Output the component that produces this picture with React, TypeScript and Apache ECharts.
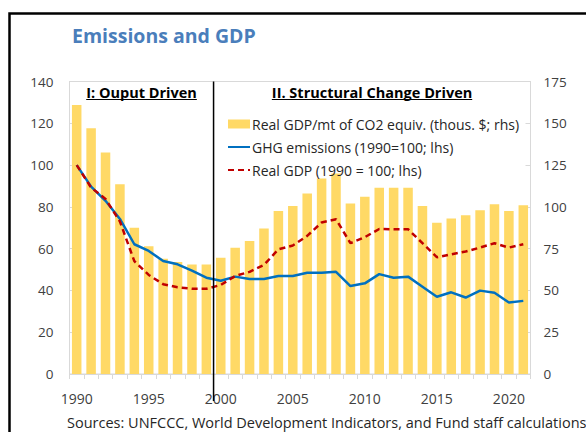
import React, { useEffect, useRef } from "react";
import * as echarts from "echarts";

const years = [
  "1990", "1991", "1992", "1993", "1994", "1995", "1996", "1997", "1998", "1999",
  "2000", "2001", "2002", "2003", "2004", "2005", "2006", "2007", "2008", "2009",
  "2010", "2011", "2012", "2013", "2014", "2015", "2016", "2017", "2018", "2019",
  "2020", "2021",
];

// Real GDP per mt of CO2 equiv. (thous. $; rhs)
const gdpPerCO2 = [
  161, 147, 132.5, 113.5, 87.5, 76.5, 69, 67, 65.5, 65.5,
  69.5, 75.5, 79.5, 87, 97.5, 100.5, 108, 117, 120, 102,
  106, 111.5, 111.5, 111.5, 100.5, 90.5, 93, 95, 98, 101.5,
  97.5, 101,
];

// GHG emissions (1990=100; lhs)
const ghg = [
  100, 89.7, 82.9, 74.2, 62.1, 58.9, 54.1, 52.5, 49.5, 46.1,
  44.6, 46.6, 45.5, 45.5, 46.9, 46.9, 48.5, 48.5, 48.9, 42.1,
  43.4, 47.8, 46.1, 46.6, 41.8, 37, 39.1, 36.6, 39.9, 38.9,
  34.2, 35,
];

// Real GDP (1990 = 100; lhs)
const realGdp = [
  100, 89.2, 83.8, 73, 54, 47.4, 43, 41.5, 40.8, 40.8,
  42.6, 46.9, 48.9, 52.2, 59.7, 61.5, 66.1, 72.5, 74.1, 62.6,
  65.5, 69.4, 69.3, 69.3, 62.6, 55.9, 57.3, 58.6, 60.5, 62.6,
  60.5, 62.1,
];

const barName = "Real GDP/mt of CO2 equiv. (thous. $; rhs)";
const ghgName = "GHG emissions (1990=100; lhs)";
const gdpName = "Real GDP (1990 = 100; lhs)";
const leftTicks = { min: 0, max: 140, interval: 20 };
const rightTicks = { min: 0, max: 175, interval: 25 };
const splitYear = "2000";
const titleText = "Emissions and GDP";
const section1 = "I: Ouput Driven";
const section2 = "II. Structural Change Driven";
const sourceText = "Sources: UNFCCC, World Development Indicators, and Fund staff calculations";

const FONT = "'Open Sans', 'Noto Sans', sans-serif";
const AXIS_GRAY = "#d9d9d9";
const LABEL_COLOR = "#404040";

function measure(text: string, font: string): number {
  const c = document.createElement("canvas");
  const ctx = c.getContext("2d");
  if (!ctx) return text.length * 7;
  ctx.font = font;
  return ctx.measureText(text).width;
}

export default function App() {
  const ref = useRef<HTMLDivElement>(null);

  useEffect(() => {
    if (!ref.current) return;
    const chart = echarts.init(ref.current, undefined, { renderer: "svg" });

    const gridLeft = 69.5;
    const gridRight = 55.5;
    const gridTop = 81.5;
    const gridBottom = 58;

    chart.setOption({
      animation: false,
      backgroundColor: "#ffffff",
      textStyle: { fontFamily: FONT },
      grid: {
        left: gridLeft,
        right: gridRight,
        top: gridTop,
        bottom: gridBottom,
        show: true,
        borderColor: AXIS_GRAY,
        borderWidth: 1,
        containLabel: false,
      },
      legend: {
        orient: "vertical",
        left: 222,
        top: 112,
        itemWidth: 22,
        itemHeight: 9,
        itemGap: 9,
        textStyle: {
          fontFamily: FONT,
          fontSize: 14,
          color: "#262626",
          padding: [0, 0, 0, -3],
        },
        data: [
          { name: barName, icon: "rect" },
          { name: ghgName, itemStyle: { opacity: 0 } },
          { name: gdpName, itemStyle: { opacity: 0 } },
        ],
      },
      xAxis: {
        type: "category",
        data: years,
        boundaryGap: true,
        axisLine: { show: true, lineStyle: { color: AXIS_GRAY, width: 1 } },
        axisTick: {
          show: true,
          interval: 0,
          length: 5,
          inside: false,
          lineStyle: { color: AXIS_GRAY },
        },
        axisLabel: {
          interval: 4,
          margin: 17,
          fontFamily: FONT,
          fontSize: 14,
          color: LABEL_COLOR,
        },
        splitLine: { show: false },
      },
      yAxis: [
        {
          type: "value",
          position: "left",
          min: leftTicks.min,
          max: leftTicks.max,
          interval: leftTicks.interval,
          axisLine: { show: true, lineStyle: { color: AXIS_GRAY } },
          axisTick: { show: true, inside: true, length: 5, lineStyle: { color: AXIS_GRAY } },
          axisLabel: { margin: 16, fontFamily: FONT, fontSize: 13.5, color: LABEL_COLOR },
          splitLine: { show: false },
        },
        {
          type: "value",
          position: "right",
          min: rightTicks.min,
          max: rightTicks.max,
          interval: rightTicks.interval,
          axisLine: { show: true, lineStyle: { color: AXIS_GRAY } },
          axisTick: { show: true, inside: true, length: 5, lineStyle: { color: AXIS_GRAY } },
          axisLabel: { margin: 13, fontFamily: FONT, fontSize: 13.5, color: LABEL_COLOR },
          splitLine: { show: false },
        },
      ],
      series: [
        {
          name: barName,
          type: "bar",
          yAxisIndex: 1,
          data: gdpPerCO2,
          barWidth: "66%",
          itemStyle: { color: "#FFD966" },
        },
        {
          name: ghgName,
          type: "line",
          yAxisIndex: 0,
          data: ghg,
          symbol: "none",
          lineStyle: { color: "#0070C0", width: 2.5 },
          itemStyle: { color: "#0070C0" },
        },
        {
          name: gdpName,
          type: "line",
          yAxisIndex: 0,
          data: realGdp,
          symbol: "none",
          lineStyle: { color: "#C00000", width: 2.5, type: [6, 4] },
          itemStyle: { color: "#C00000" },
        },
      ],
    });

    // Decoration positions derived from the library's own scales
    const idx = years.indexOf(splitYear);
    const xa = chart.convertToPixel({ xAxisIndex: 0 }, years[idx - 1]) as number;
    const xb = chart.convertToPixel({ xAxisIndex: 0 }, years[idx]) as number;
    const xDiv = (xa + xb) / 2;
    const yTop = chart.convertToPixel({ yAxisIndex: 0 }, leftTicks.max) as number;
    const yBottom = chart.convertToPixel({ yAxisIndex: 0 }, leftTicks.min) as number;
    const plotLeft = gridLeft;
    const plotRight = 586 - gridRight;

    const secFontSize = 14.5;
    const secFont = `bold ${secFontSize}px 'Open Sans', 'Noto Sans', sans-serif`;
    const c1 = (plotLeft + xDiv) / 2;
    const c2 = (xDiv + plotRight) / 2;
    const w1 = measure(section1, secFont);
    const w2 = measure(section2, secFont);
    const secY = 92;
    const ulY = 99.5;

    chart.setOption({
      graphic: [
        {
          type: "rect",
          shape: { x: 9.5, y: 13.5, width: 800, height: 600 },
          style: { fill: "none", stroke: "#000000", lineWidth: 2.5 },
          silent: true,
          z: 100,
        },
        {
          type: "text",
          x: 72,
          y: 35.5,
          style: {
            text: titleText,
            fontFamily: FONT,
            fontWeight: "bold",
            fontSize: 19.5,
            fill: "#4A7EBB",
            textVerticalAlign: "middle",
            textAlign: "left",
          },
        },
        {
          type: "line",
          shape: { x1: xDiv, y1: yTop, x2: xDiv, y2: yBottom + 27 },
          style: { stroke: "#000000", lineWidth: 1.5 },
          z: 50,
        },
        {
          type: "text",
          x: c1,
          y: secY,
          style: {
            text: section1,
            fontFamily: FONT,
            fontWeight: "bold",
            fontSize: secFontSize,
            fill: "#000000",
            textAlign: "center",
            textVerticalAlign: "middle",
          },
          z: 50,
        },
        {
          type: "line",
          shape: { x1: c1 - w1 / 2, y1: ulY, x2: c1 + w1 / 2, y2: ulY },
          style: { stroke: "#000000", lineWidth: 1 },
          z: 50,
        },
        {
          type: "text",
          x: c2,
          y: secY,
          style: {
            text: section2,
            fontFamily: FONT,
            fontWeight: "bold",
            fontSize: secFontSize,
            fill: "#000000",
            textAlign: "center",
            textVerticalAlign: "middle",
          },
          z: 50,
        },
        {
          type: "line",
          shape: { x1: c2 - w2 / 2, y1: ulY, x2: c2 + w2 / 2, y2: ulY },
          style: { stroke: "#000000", lineWidth: 1 },
          z: 50,
        },
        {
          type: "text",
          x: 67,
          y: 422.5,
          style: {
            text: sourceText,
            fontFamily: FONT,
            fontSize: 14.5,
            fill: "#262626",
            textAlign: "left",
            textVerticalAlign: "middle",
          },
        },
      ],
    });

    return () => {
      chart.dispose();
    };
  }, []);

  return (
    <div
      ref={ref}
      style={{ position: "fixed", left: 0, top: 0, width: 586, height: 432 }}
    />
  );
}
